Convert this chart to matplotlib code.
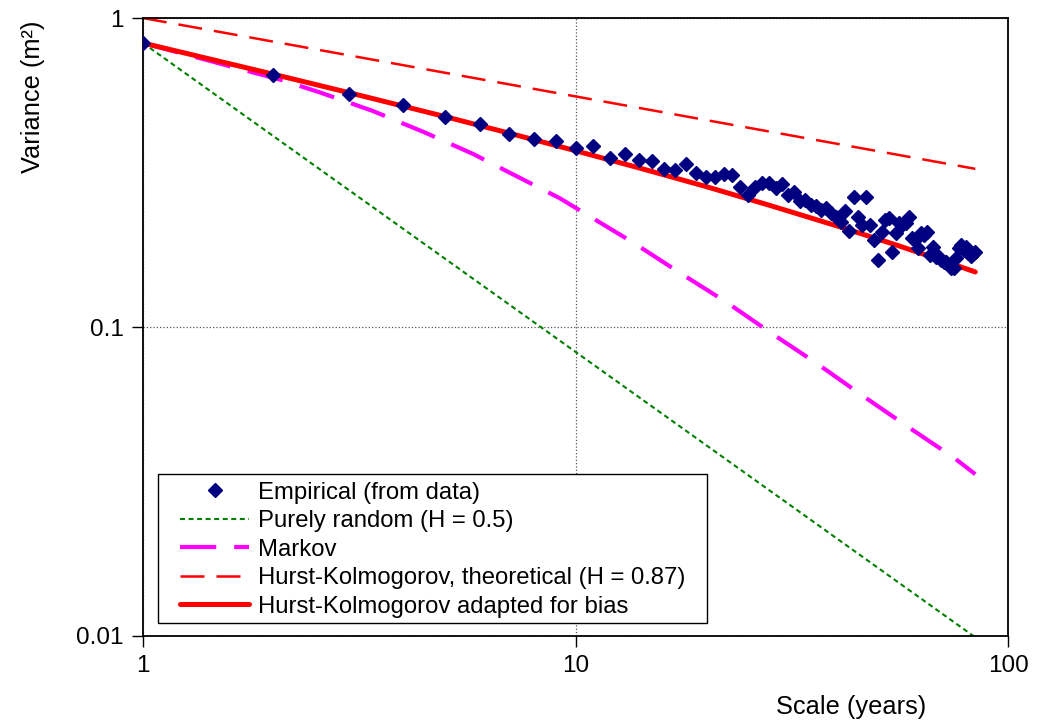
import matplotlib
matplotlib.use("Agg")
import matplotlib.pyplot as plt
from matplotlib.patches import Rectangle

plt.rcParams['font.family'] = ['Liberation Sans', 'DejaVu Sans']

# Empirical climacogram (scale 1..84 years)
emp_scale = list(range(1, 85))
emp_var = [0.830, 0.654, 0.568, 0.523, 0.478, 0.454, 0.421, 0.406, 0.400, 0.380,
           0.384, 0.352, 0.363, 0.347, 0.345, 0.325, 0.322, 0.337, 0.315, 0.306,
           0.305, 0.313, 0.310, 0.284, 0.268, 0.284, 0.292, 0.292, 0.282, 0.290,
           0.268, 0.274, 0.256, 0.258, 0.248, 0.246, 0.239, 0.243, 0.234, 0.227,
           0.219, 0.237, 0.205, 0.263, 0.227, 0.214, 0.263, 0.214, 0.191, 0.165,
           0.203, 0.222, 0.225, 0.175, 0.202, 0.217, 0.214, 0.217, 0.227, 0.194,
           0.191, 0.180, 0.202, 0.199, 0.203, 0.171, 0.182, 0.168, 0.170, 0.165,
           0.162, 0.162, 0.159, 0.155, 0.155, 0.167, 0.180, 0.184, 0.178, 0.182,
           0.174, 0.170, 0.172, 0.175]

# Purely random (H = 0.5): straight line on log-log
rand_scale = [1, 84]
rand_var = [0.83, 0.0099]

# Markov
markov_scale = [1, 2.09, 2.55, 3.39, 4.45, 5.8, 9.2, 13.6, 17.4, 22.4, 28.4, 36.1, 45.9, 58.6, 74.7, 84]
markov_var = [0.83, 0.630, 0.576, 0.501, 0.428, 0.363, 0.261, 0.1875, 0.150, 0.120, 0.0954, 0.0763,
              0.0602, 0.0476, 0.0379, 0.0334]

# Hurst-Kolmogorov theoretical (H = 0.87)
hk_scale = [1, 84]
hk_var = [1.0, 0.325]

# Hurst-Kolmogorov adapted for bias
hkb_scale = [1, 2, 3, 5, 7, 10, 14, 20, 28, 40, 55, 70, 84]
hkb_var = [0.83, 0.658, 0.573, 0.4795, 0.4246, 0.372, 0.3275, 0.285, 0.248, 0.2129, 0.1845, 0.1647, 0.1507]

fig = plt.figure(figsize=(10.46, 7.21), dpi=100)
ax = fig.add_axes([0.1367, 0.1179, 0.8270, 0.8571])

ax.plot(emp_scale, emp_var, linestyle='none', marker='D', markersize=7,
        color='#000080', label='Empirical (from data)', zorder=5)
ax.plot(rand_scale, rand_var, color='#008000', lw=1.5, linestyle=(0, (2.4, 1.7)),
        label='Purely random (H = 0.5)')
ax.plot(markov_scale, markov_var, color='#FF00FF', lw=3, linestyle=(0, (8.7, 4.3)),
        label='Markov')
ax.plot(hk_scale, hk_var, color='#FF0000', lw=1.8, linestyle=(0, (9.6, 4.8)),
        label='Hurst-Kolmogorov, theoretical (H = 0.87)')
ax.plot(hkb_scale, hkb_var, color='#FF0000', lw=3.6, solid_capstyle='round',
        solid_joinstyle='round', label='Hurst-Kolmogorov adapted for bias', zorder=4)

ax.set_xscale('log')
ax.set_yscale('log')
ax.set_xlim(1, 100)
ax.set_ylim(0.01, 1)
ax.set_xticks([1, 10, 100])
ax.set_xticklabels(['1', '10', '100'])
ax.set_yticks([0.01, 0.1, 1])
ax.set_yticklabels(['0.01', '0.1', '1'])
ax.minorticks_off()
ax.tick_params(direction='out', length=8, width=1, labelsize=17.5, pad=6)
ax.grid(True, which='major', color='#555555', linestyle=':', linewidth=0.9)
for s in ax.spines.values():
    s.set_linewidth(1.3)
    s.set_color('black')

fig.text(0.814, 0.019, 'Scale (years)', fontsize=18.3, ha='center', va='center')
fig.text(0.032, 0.866, 'Variance (m²)', fontsize=18.3, ha='center', va='center', rotation=90)

# legend box drawn separately so the inner padding can match the original
ax.add_patch(Rectangle((0.0173, 0.021), 0.6347, 0.2411, transform=ax.transAxes,
                       facecolor='white', edgecolor='black', lw=1.0, zorder=6))
leg = ax.legend(loc='upper left', bbox_to_anchor=(0.0428, 0.2495),
                borderaxespad=0, borderpad=0, fontsize=17.2, frameon=False,
                handlelength=2.9, handletextpad=0.35, labelspacing=0.27)
leg.set_zorder(7)

fig.savefig('out.png', dpi=100)
